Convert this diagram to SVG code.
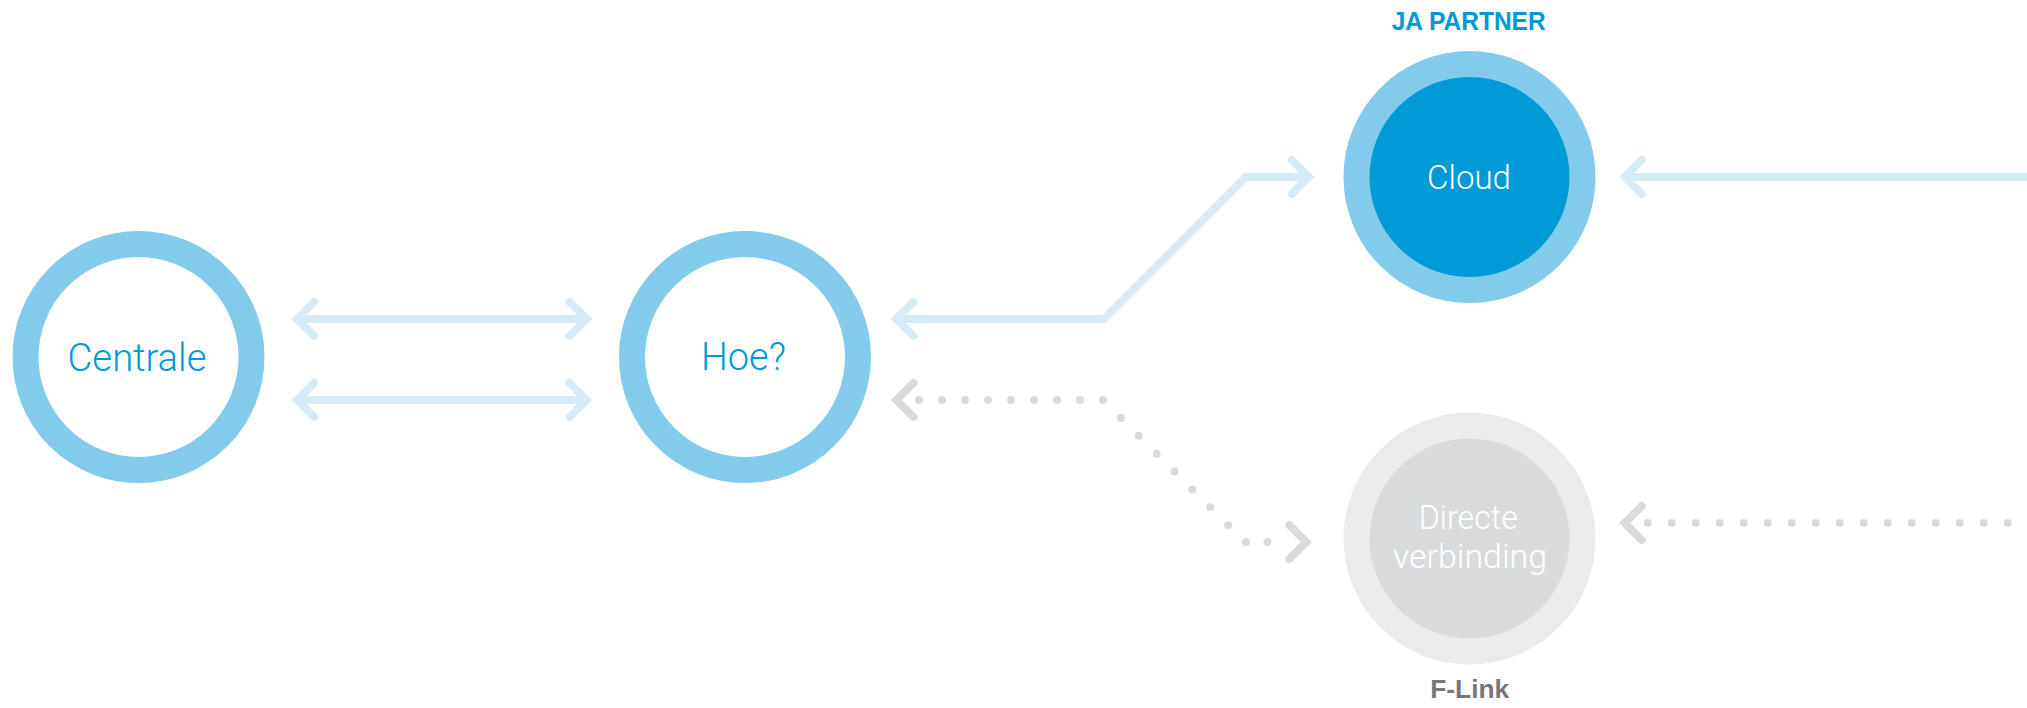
<svg xmlns="http://www.w3.org/2000/svg" xmlns:xlink="http://www.w3.org/1999/xlink" width="2027" height="708" viewBox="0 0 2027 708">
  <style>
    .ring { fill: #ffffff; stroke: #82cbea; stroke-width: 26; }
    .ring-cloud { fill: #009ad6; stroke: #82cbea; stroke-width: 26; }
    .ring-grey { fill: #d9dadb; stroke: #ebebeb; stroke-width: 26; }
    .lbl { font-family: Roboto, "Liberation Sans", Arial, sans-serif; font-weight: 300; text-anchor: middle; }
    .lbl-blue { fill: #0099d6; font-size: 39px; }
    .lbl-white { fill: #ffffff; font-size: 34px; }
    .tag { font-family: "Liberation Sans", Arial, sans-serif; font-weight: bold; text-anchor: middle; font-size: 25px; }
    .line { fill: none; stroke: #d6ebf6; stroke-width: 8; stroke-linejoin: miter; }
    .chev-blue { fill: none; stroke: #d6ebf6; stroke-width: 8; stroke-linecap: round; stroke-linejoin: miter; }
    .chev-grey { fill: none; stroke: #d9dadb; stroke-width: 8; stroke-linecap: round; stroke-linejoin: miter; }
    .dots { fill: none; stroke: #d9dadb; stroke-width: 8; stroke-linecap: round; }
  </style>
  <defs>
    <path id="chev" d="M 22.7,-17 L 5.7,0 L 22.7,17"/>
  </defs>

  <g id="connectors">
    <!-- Centrale <-> Hoe? (two double arrows) -->
    <path class="line" d="M 297,319 H 586.6"/>
    <use xlink:href="#chev" href="#chev" class="chev-blue" transform="translate(291.4,319)"/>
    <use xlink:href="#chev" href="#chev" class="chev-blue" transform="translate(592.3,319) scale(-1,1)"/>
    <path class="line" d="M 297,400 H 586.6"/>
    <use xlink:href="#chev" href="#chev" class="chev-blue" transform="translate(291.4,400)"/>
    <use xlink:href="#chev" href="#chev" class="chev-blue" transform="translate(592.3,400) scale(-1,1)"/>

    <!-- Hoe? <-> Cloud -->
    <path class="line" d="M 896.4,319 H 1104 L 1246,177 H 1308.6"/>
    <use xlink:href="#chev" href="#chev" class="chev-blue" transform="translate(890.7,319)"/>
    <use xlink:href="#chev" href="#chev" class="chev-blue" transform="translate(1314.3,177) scale(-1,1)"/>

    <!-- right edge -> Cloud -->
    <path class="line" d="M 1624.7,177 H 2035"/>
    <use xlink:href="#chev" href="#chev" class="chev-blue" transform="translate(1619,177)"/>

    <!-- Hoe? <-> Directe verbinding (dotted) -->
    <path class="dots" d="M 919,400 H 1103" stroke-dasharray="0 23"/>
    <path class="dots" d="M 1103,400 L 1246,543" stroke-dasharray="0 25.28"/>
    <path class="dots" d="M 1246,542 H 1289" stroke-dasharray="0 21.5"/>
    <use xlink:href="#chev" href="#chev" class="chev-grey" transform="translate(890.7,400)"/>
    <use xlink:href="#chev" href="#chev" class="chev-grey" transform="translate(1312,542) scale(-1,1)"/>

    <!-- right edge -> Directe verbinding (dotted) -->
    <path class="dots" d="M 1647.7,523 H 2040" stroke-dasharray="0 24"/>
    <use xlink:href="#chev" href="#chev" class="chev-grey" transform="translate(1619,523)"/>
  </g>

  <g id="node-centrale">
    <circle class="ring" cx="138.5" cy="357" r="113"/>
    <text class="lbl lbl-blue" x="137" y="370.7" textLength="139" lengthAdjust="spacingAndGlyphs">Centrale</text>
  </g>

  <g id="node-hoe">
    <circle class="ring" cx="745" cy="357" r="113"/>
    <text class="lbl lbl-blue" x="743.4" y="370" textLength="85" lengthAdjust="spacingAndGlyphs">Hoe?</text>
  </g>

  <g id="node-cloud">
    <text class="tag" x="1468.7" y="30" fill="#0099d6" textLength="154" lengthAdjust="spacingAndGlyphs">JA PARTNER</text>
    <circle class="ring-cloud" cx="1469.5" cy="177" r="113"/>
    <text class="lbl lbl-white" x="1469" y="189.3" textLength="84" lengthAdjust="spacingAndGlyphs">Cloud</text>
  </g>

  <g id="node-directe">
    <circle class="ring-grey" cx="1469.5" cy="538.5" r="113"/>
    <text class="lbl lbl-white" x="1468.3" y="529" textLength="99" lengthAdjust="spacingAndGlyphs">Directe</text>
    <text class="lbl lbl-white" x="1470" y="567.7" textLength="154" lengthAdjust="spacingAndGlyphs">verbinding</text>
    <text class="tag" x="1469.7" y="697.7" fill="#777777" textLength="79" lengthAdjust="spacingAndGlyphs">F-Link</text>
  </g>
</svg>
